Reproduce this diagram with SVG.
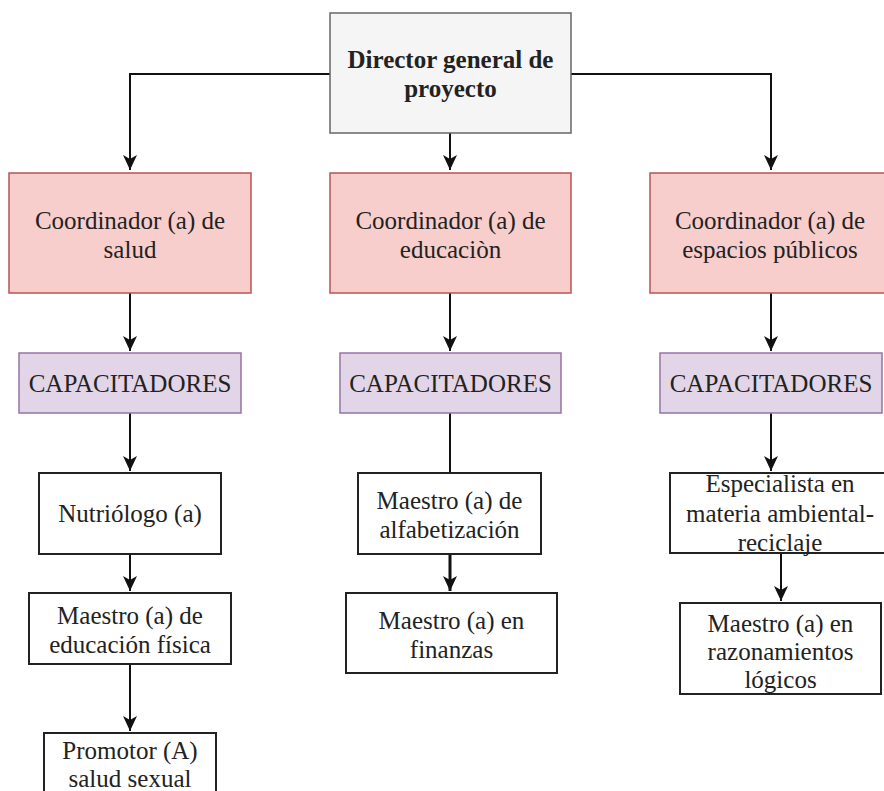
<svg xmlns="http://www.w3.org/2000/svg" width="884" height="791" viewBox="0 0 884 791">
<style>
  text { font-family: "Liberation Serif", "Times New Roman", serif; font-size: 25px; fill: #222; text-anchor: middle; }
  .bold { font-weight: bold; }
  .dir { fill: #f5f5f5; stroke: #666666; stroke-width: 1.5; }
  .coord { fill: #f8cecc; stroke: #b85450; stroke-width: 1.5; }
  .cap { fill: #e1d5e7; stroke: #9673a6; stroke-width: 1.5; }
  .plain { fill: #ffffff; stroke: #222222; stroke-width: 2; }
  .edge { fill: none; stroke: #111111; stroke-width: 2; }
</style>
<defs>
  <marker id="arrow" markerUnits="userSpaceOnUse" viewBox="-16 -8 17 16" refX="0" refY="0" markerWidth="17" markerHeight="16" orient="auto">
    <path d="M -15 -7 L 0 0 L -15 7 L -11 0 Z" fill="#111111"/>
  </marker>
</defs>
<rect width="884" height="791" fill="#ffffff"/>

<g id="connectors">
  <path class="edge" d="M 330 74 L 130 74 L 130 170" marker-end="url(#arrow)"/>
  <path class="edge" d="M 450 133 L 450 170" marker-end="url(#arrow)"/>
  <path class="edge" d="M 571 74 L 771 74 L 771 170" marker-end="url(#arrow)"/>
  <path class="edge" d="M 130 293 L 130 351" marker-end="url(#arrow)"/>
  <path class="edge" d="M 450 293 L 450 351" marker-end="url(#arrow)"/>
  <path class="edge" d="M 771 293 L 771 351" marker-end="url(#arrow)"/>
  <path class="edge" d="M 130 413 L 130 471" marker-end="url(#arrow)"/>
  <path class="edge" d="M 450 413 L 450 473"/>
  <path class="edge" d="M 771 413 L 771 471" marker-end="url(#arrow)"/>
  <path class="edge" d="M 130 554 L 130 591" marker-end="url(#arrow)"/>
  <path class="edge" d="M 130 664 L 130 731" marker-end="url(#arrow)"/>
  <path class="edge" d="M 450 554 L 450 591" style="stroke-width:3" marker-end="url(#arrow)"/>
  <path class="edge" d="M 781 553 L 781 601" marker-end="url(#arrow)"/>
</g>

<g id="director">
  <rect class="dir" x="330" y="13" width="241" height="120"/>
  <text class="bold" x="450.5" y="68">Director general de</text>
  <text class="bold" x="450.5" y="97">proyecto</text>
</g>

<g id="coord-salud">
  <rect class="coord" x="9" y="173" width="242" height="120"/>
  <text x="130" y="229">Coordinador (a) de</text>
  <text x="130" y="258">salud</text>
</g>
<g id="coord-educacion">
  <rect class="coord" x="330" y="173" width="241" height="120"/>
  <text x="450.5" y="229">Coordinador (a) de</text>
  <text x="450.5" y="258">educaciòn</text>
</g>
<g id="coord-espacios">
  <rect class="coord" x="650" y="173" width="240" height="120"/>
  <text x="770" y="229">Coordinador (a) de</text>
  <text x="770" y="258">espacios públicos</text>
</g>

<g id="cap-salud">
  <rect class="cap" x="19" y="353" width="222" height="60"/>
  <text x="130" y="392">CAPACITADORES</text>
</g>
<g id="cap-educacion">
  <rect class="cap" x="340" y="353" width="221" height="60"/>
  <text x="450.5" y="392">CAPACITADORES</text>
</g>
<g id="cap-espacios">
  <rect class="cap" x="660" y="353" width="222" height="60"/>
  <text x="771" y="392">CAPACITADORES</text>
</g>

<g id="nutriologo">
  <rect class="plain" x="39" y="473" width="182" height="81"/>
  <text x="130" y="522">Nutriólogo (a)</text>
</g>
<g id="maestro-fisica">
  <rect class="plain" x="29" y="593" width="202" height="71"/>
  <text x="130" y="624">Maestro (a) de</text>
  <text x="130" y="653">educación física</text>
</g>
<g id="promotor">
  <rect class="plain" x="44" y="733" width="172" height="80"/>
  <text x="130" y="759">Promotor (A)</text>
  <text x="130" y="787">salud sexual</text>
</g>

<g id="maestro-alfabetizacion">
  <rect class="plain" x="358" y="473" width="183" height="81"/>
  <text x="449.5" y="509">Maestro (a) de</text>
  <text x="449.5" y="538">alfabetización</text>
</g>
<g id="maestro-finanzas">
  <rect class="plain" x="346" y="593" width="211" height="80"/>
  <text x="451.5" y="629">Maestro (a) en</text>
  <text x="451.5" y="658">finanzas</text>
</g>

<g id="especialista">
  <rect class="plain" x="670" y="473" width="220" height="80"/>
  <text x="780" y="492">Especialista en</text>
  <text x="780" y="522">materia ambiental-</text>
  <text x="780" y="551">reciclaje</text>
</g>
<g id="maestro-razonamientos">
  <rect class="plain" x="680" y="603" width="201" height="91"/>
  <text x="780.5" y="632">Maestro (a) en</text>
  <text x="780.5" y="660">razonamientos</text>
  <text x="780.5" y="688">lógicos</text>
</g>
</svg>
